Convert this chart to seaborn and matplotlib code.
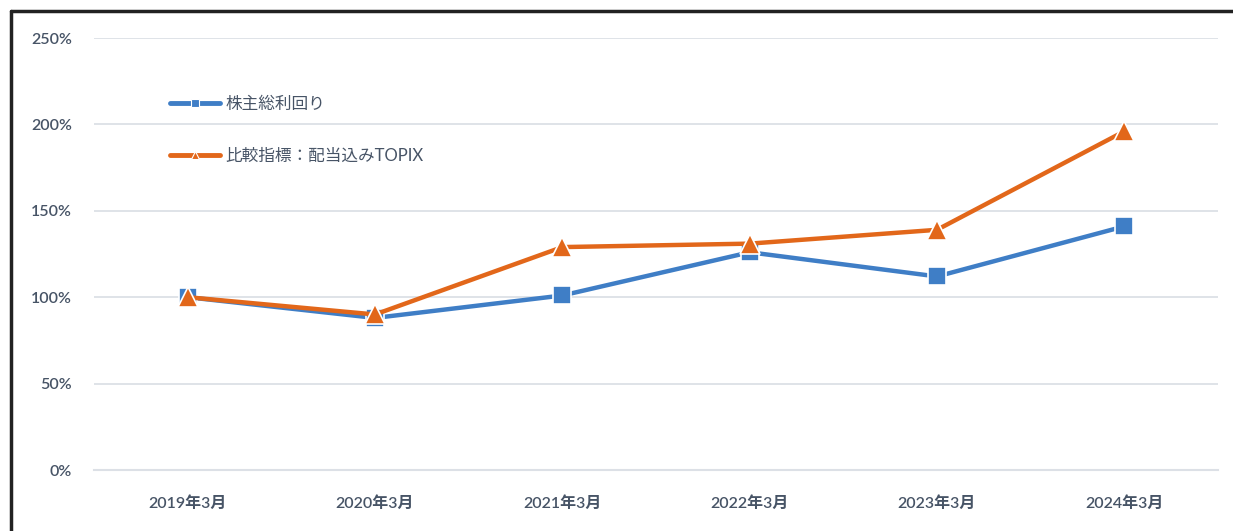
import matplotlib
matplotlib.use("Agg")
import matplotlib.pyplot as plt
import seaborn as sns
import pandas as pd
from matplotlib.lines import Line2D
from matplotlib.ticker import FuncFormatter

periods = ["2019年3月", "2020年3月", "2021年3月", "2022年3月", "2023年3月", "2024年3月"]
tsr_values = [100, 88, 101, 126, 112, 141]
topix_values = [100, 90, 129, 131, 139, 196]
series_names = ["株主総利回り", "比較指標：配当込みTOPIX"]

sns.set_theme(style="white")
plt.rcParams["font.family"] = ["Lato", "Noto Sans CJK JP", "DejaVu Sans"]

text_color = "#475466"
grid_color = "#DCE0E6"
blue = "#3F7EC6"
orange = "#E2671A"

df = pd.DataFrame({
    "pos": list(range(len(periods))) * 2,
    "value": tsr_values + topix_values,
    "series": [series_names[0]] * len(periods) + [series_names[1]] * len(periods),
})

fig = plt.figure(figsize=(12.33, 5.31), dpi=100)
ax = fig.add_axes([94 / 1233, 61 / 531, 1124 / 1233, 432 / 531])

for name, color, marker, size in [
    (series_names[0], blue, "s", 13),
    (series_names[1], orange, "^", 14),
]:
    sub = df[df["series"] == name]
    sns.lineplot(
        data=sub, x="pos", y="value", ax=ax, color=color, linewidth=3.2,
        marker=marker, markersize=size, markeredgecolor="white", markeredgewidth=1.2,
        label=name, zorder=3,
    )

ax.set_xlim(-0.5, len(periods) - 0.5)
ax.set_ylim(0, 250)
ax.set_yticks([0, 50, 100, 150, 200, 250])
ax.yaxis.set_major_formatter(FuncFormatter(lambda v, _p: f"{v:.0f}%"))
ax.set_xticks(range(len(periods)))
ax.set_xticklabels(periods)
ax.set_xticks([i - 0.5 for i in range(len(periods) + 1)], minor=True)
ax.tick_params(axis="x", which="major", length=0, pad=19, labelsize=11.5, labelcolor=text_color)
ax.tick_params(axis="x", which="minor", length=5, width=1.2, color=grid_color, direction="out")
ax.tick_params(axis="y", length=0, pad=16, labelsize=11.5, labelcolor=text_color)
for lbl in ax.get_xticklabels() + ax.get_yticklabels():
    lbl.set_fontweight("semibold")
ax.set_xlabel("")
ax.set_ylabel("")
ax.grid(axis="y", color=grid_color, linewidth=1.3)
ax.set_axisbelow(True)
for side in ["top", "right", "left"]:
    ax.spines[side].set_visible(False)
ax.spines["bottom"].set_color(grid_color)
ax.spines["bottom"].set_linewidth(1.5)

handles = [
    Line2D([], [], color=blue, linewidth=3.5, marker="s", markersize=6, markeredgecolor="white", markeredgewidth=0.8),
    Line2D([], [], color=orange, linewidth=3.5, marker="^", markersize=6, markeredgecolor="white", markeredgewidth=0.8),
]
leg = ax.legend(
    handles, series_names, loc="upper left", bbox_to_anchor=(0.062, 0.882),
    frameon=False, fontsize=12, labelspacing=2.15, handlelength=3.0, handletextpad=0.3,
    borderaxespad=0,
)
for t in leg.get_texts():
    t.set_color(text_color)

# outer frame of the screenshot
fig.add_artist(Line2D([11 / 1233, 11 / 1233], [0, 1 - 11 / 531], color="#222222", linewidth=2.5, transform=fig.transFigure))
fig.add_artist(Line2D([11 / 1233, 1], [1 - 11 / 531, 1 - 11 / 531], color="#222222", linewidth=2.5, transform=fig.transFigure))

fig.savefig("out.png", dpi=100)
